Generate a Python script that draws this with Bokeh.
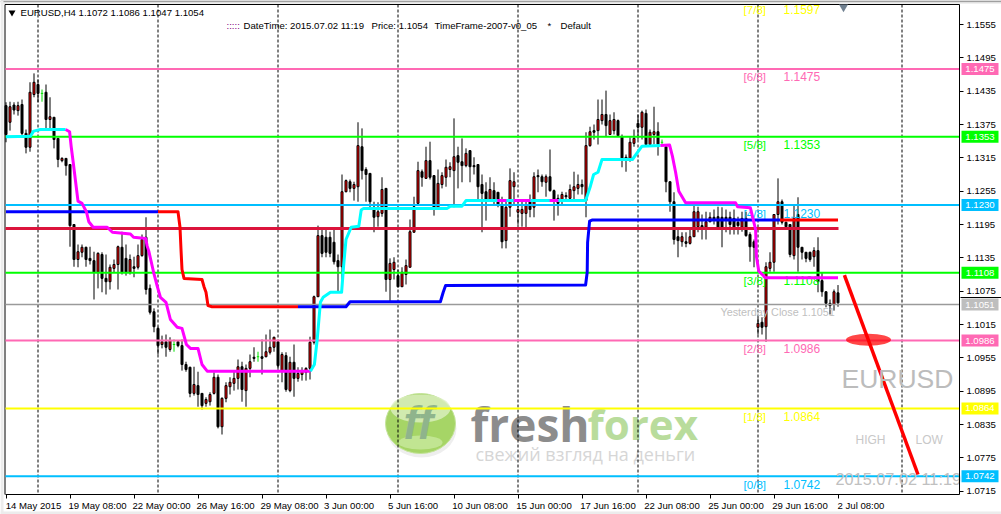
from bokeh.plotting import figure
from bokeh.models import Range1d, FixedTicker
from bokeh.core.properties import value
from bokeh.embed import file_html
from bokeh.resources import INLINE
import numpy as np

SYMBOL = "EURUSD"
# OHLC of the H4 bars, in 1/10000 of a dollar
highs = [11415,11416,11415,11416,11420,11366,11451,11467,11456,11438,
11447,11424,11388,11350,11316,11314,11303,11195,11159,11159,
11155,11155,11146,11145,11145,11141,11123,11132,11157,11182,
11159,11141,11137,11159,11177,11208,11087,11044,11011,10995,
10997,10992,10988,10984,10988,10948,10939,10939,10930,10891,
10884,10893,10929,10925,10884,10911,10920,10932,10952,10948,
10943,10961,10974,10966,10988,10997,11006,10993,10986,10965,
10965,10957,10979,10938,10938,10938,10993,11067,11193,11186,
11186,11182,11186,11141,11285,11276,11276,11272,11379,11368,
11298,11287,11236,11235,11280,11260,11134,11136,11114,11118,
11132,11204,11245,11308,11294,11335,11344,11283,11294,11289,
11312,11307,11386,11335,11350,11332,11328,11316,11303,11285,
11271,11280,11271,11253,11245,11236,11296,11289,11236,11240,
11236,11249,11289,11294,11285,11285,11330,11258,11249,11254,
11253,11267,11290,11285,11276,11361,11371,11375,11420,11420,
11436,11393,11397,11384,11357,11321,11352,11366,11393,11400,
11402,11366,11407,11379,11348,11335,11272,11253,11186,11181,
11181,11186,11229,11227,11213,11218,11217,11222,11227,11226,
11222,11218,11222,11209,11218,11218,11181,11168,11028,11028,
11127,11145,11213,11278,11240,11200,11195,11231,11244,11154,
11145,11146,11154,11172,11109,11074,11060,11078,11086]
opens = [11409,11379,11410,11400,11411,11359,11334,11429,11447,11431,
11433,11384,11388,11350,11310,11314,11303,11195,11132,11145,
11154,11134,11130,11109,11141,11098,11092,11116,11123,11154,
11134,11109,11119,11118,11139,11172,11080,11038,11008,10979,
10984,10970,10979,10984,10977,10943,10938,10891,10905,10891,
10873,10876,10891,10920,10831,10882,10903,10909,10918,10939,
10896,10936,10956,10957,10957,10957,10965,10974,10984,10932,
10959,10896,10947,10918,10925,10929,10936,10983,11065,11175,
11172,11172,11163,11130,11119,11254,11272,11260,11263,11335,
11294,11287,11226,11209,11215,11260,11096,11114,11103,11083,
11105,11118,11181,11233,11290,11278,11310,11283,11226,11267,
11280,11294,11292,11319,11308,11301,11328,11301,11303,11267,
11254,11240,11256,11253,11231,11166,11226,11263,11217,11215,
11215,11240,11226,11283,11281,11271,11281,11256,11242,11240,
11247,11242,11256,11260,11267,11238,11337,11364,11364,11382,
11393,11357,11364,11382,11353,11316,11314,11341,11377,11370,
11395,11339,11357,11362,11343,11335,11272,11236,11173,11164,
11164,11161,11173,11191,11193,11190,11200,11208,11209,11208,
11208,11208,11206,11199,11190,11206,11177,11164,11010,11019,
11011,11116,11127,11213,11236,11199,11195,11139,11213,11154,
11145,11145,11137,11148,11094,11074,11053,11051,11072]
closes = [11357,11407,11401,11409,11359,11334,11433,11451,11431,11430,
11384,11389,11348,11312,11314,11301,11193,11132,11146,11154,
11132,11130,11109,11143,11098,11092,11118,11123,11155,11109,
11109,11132,11116,11139,11168,11078,11037,11011,10977,10984,
10974,10986,10977,10977,10943,10934,10891,10907,10889,10869,
10880,10889,10920,10831,10882,10905,10911,10918,10939,10898,
10936,10948,10954,10956,10954,10966,10974,10992,10941,10961,
10898,10947,10918,10927,10930,10936,10983,11065,11175,11143,
11145,11143,11128,11119,11254,11274,11260,11267,11337,11292,
11285,11236,11208,11218,11258,11096,11125,11127,11083,11109,
11121,11182,11227,11292,11280,11310,11280,11226,11269,11283,
11298,11299,11317,11307,11301,11323,11299,11299,11263,11251,
11240,11258,11238,11231,11164,11226,11274,11272,11222,11222,
11231,11222,11281,11281,11272,11281,11256,11240,11233,11249,
11245,11258,11263,11267,11263,11337,11362,11361,11384,11393,
11373,11382,11384,11355,11314,11312,11343,11350,11370,11397,
11339,11361,11362,11339,11341,11272,11236,11168,11166,11173,
11161,11173,11218,11218,11190,11200,11208,11204,11190,11190,
11204,11195,11190,11193,11206,11175,11155,11154,11017,11010,
11119,11127,11213,11236,11199,11191,11141,11206,11154,11145,
11134,11132,11148,11092,11074,11053,11049,11074,11054]
lows = [11343,11364,11393,11391,11355,11323,11326,11424,11415,11416,
11368,11366,11332,11298,11307,11283,11155,11119,11118,11136,
11119,11123,11060,11080,11073,11069,11078,11109,11078,11105,
11103,11105,11100,11114,11137,11069,11033,11001,10961,10972,
10957,10966,10966,10974,10932,10930,10884,10887,10867,10862,
10867,10869,10889,10828,10817,10875,10889,10896,10898,10876,
10867,10920,10948,10948,10925,10956,10961,10966,10934,10911,
10894,10893,10885,10912,10914,10914,10916,10979,11065,11136,
11136,11136,11123,11073,11073,11253,11253,11238,11236,11276,
11236,11226,11181,11191,11209,11074,11056,11096,11082,11083,
11087,11118,11181,11233,11263,11278,11276,11211,11226,11260,
11263,11280,11226,11260,11271,11298,11271,11285,11236,11181,
11202,11236,11231,11226,11152,11152,11209,11231,11195,11191,
11190,11208,11208,11253,11263,11245,11254,11202,11211,11231,
11240,11240,11240,11249,11249,11208,11335,11348,11339,11375,
11353,11357,11357,11353,11298,11290,11308,11335,11348,11348,
11335,11339,11339,11319,11337,11253,11218,11159,11136,11155,
11154,11159,11173,11181,11168,11168,11199,11195,11186,11154,
11181,11177,11177,11177,11182,11173,11128,11118,10997,10997,
10984,11110,11110,11195,11195,11190,11136,11132,11110,11132,
11127,11128,11119,11073,11065,11046,11033,11040,11047]
arrow_bars = [9, 42, 63, 164]

# Murrey levels
level_names = ["[7/8]", "[6/8]", "[5/8]", "[4/8]", "[3/8]", "[2/8]", "[1/8]", "[0/8]"]
level_values = [1.1597, 1.1475, 1.1353, 1.1230, 1.1108, 1.0986, 1.0864, 1.0742]
level_colors = ["#ffff00", "#ff69b4", "#00ff00", "#00bfff", "#00ff00", "#ff69b4", "#ffff00", "#00bfff"]
yesterday_close = 1.1051
crimson_level = 1.1188

# indicator paths (bar index, value in 1/10000)
blue_a_x = [0, 38];  blue_a_y = [11218, 11218]
red_a_x = [38, 43, 43.5, 43.75, 44, 44.5, 49, 49.5, 50, 50.5, 51.5, 73]
red_a_y = [11218, 11218, 11190, 11150, 11114, 11098, 11096, 11083, 11073, 11049, 11047, 11047]
blue_b_x = [73, 85, 86, 108.6, 109.3, 109.9, 144.9, 145.3, 145.4, 145.9, 146.5, 193.5]
blue_b_y = [11047, 11047, 11056, 11056, 11073, 11085, 11086, 11109, 11163, 11201, 11203, 11203]
red_b_x = [193.5, 208];  red_b_y = [11203, 11203]

cyan_a_x = [0, 6.1, 6.9, 8.6, 14.9]
cyan_a_y = [11353, 11354, 11363, 11366, 11366]
magenta_a_x = [14.9, 15.9, 16.3, 16.8, 17.4, 18, 19, 20.1, 20.7, 21.8, 25.3, 26.6, 31.1, 31.9, 34.9, 35.3, 35.7, 36.9,
               37.8, 38.6, 40, 41.1, 42.8, 44, 45.1, 46.1, 48, 49, 50.3, 76.1]
magenta_a_y = [11366, 11362, 11335, 11307, 11272, 11237, 11233, 11218, 11200, 11190, 11190, 11181, 11178, 11172, 11170,
               11156, 11147, 11109, 11084, 11064, 11055, 11024, 11010, 11008, 10979, 10972, 10972, 10943, 10931, 10931]
cyan_b_x = [76.1, 77.1, 77.8, 78.6, 79.3, 81.1, 83.9, 84.4, 85, 86.3, 88.2, 88.8, 89.4, 110.3, 111.1, 114, 115, 144.9,
            146.1, 146.9, 148, 149, 156.6, 159, 163.6]
cyan_b_y = [10931, 10943, 10988, 11055, 11064, 11073, 11073, 11120, 11168, 11190, 11192, 11221, 11224, 11224, 11228,
            11228, 11238, 11238, 11264, 11285, 11289, 11312, 11312, 11336, 11337]
magenta_patch_x0 = [122.8, 126.9, 135.9]
magenta_patch_x1 = [125.1, 131.1, 138.1]
magenta_patch_y = 11238
magenta_b_x = [163.6, 165.9, 166.6, 167.4, 168.2, 169.9, 182.4, 182.9, 186.1, 187.4, 187.6, 188.2, 189.9, 208]
magenta_b_y = [11337, 11338, 11318, 11289, 11255, 11234, 11234, 11227, 11225, 11186, 11138, 11111, 11099, 11099]
trend_x = [209.6, 228];  trend_y = [11104, 10745]

# axes
y_ticks = [1.1555, 1.1495, 1.1435, 1.1375, 1.1315, 1.1255, 1.1195, 1.1135, 1.1075, 1.1015, 1.0955, 1.0895, 1.0835, 1.0775, 1.0715]
x_tick_bars = [0, 16, 32, 48, 64, 80, 96, 112, 128, 144, 160, 176, 192, 208]
x_tick_labels = ["14 May 2015", "19 May 08:00", "22 May 00:00", "26 May 16:00", "29 May 08:00", "3 Jun 00:00", "5 Jun 16:00",
                 "10 Jun 08:00", "15 Jun 00:00", "17 Jun 16:00", "22 Jun 08:00", "25 Jun 00:00", "29 Jun 16:00", "2 Jul 08:00"]
session_bars = [8, 38, 68, 98, 128, 158, 188, 224]


def bar_at(px):
    return (px - 5.5) / 4.0


def price_at(py):
    return (11600 - 1.8 * py) / 10000.0


def P(a):
    return [v / 10000.0 for v in a]


UI = "Liberation Sans"
p = figure(width=1001, height=514, output_backend="svg", toolbar_location=None,
           x_range=Range1d(bar_at(0), bar_at(1001)), y_range=Range1d(price_at(515), price_at(1)),
           x_axis_location="below", y_axis_location="right",
           min_border_left=0, min_border_right=0, min_border_top=0, min_border_bottom=0,
           background_fill_color="white", border_fill_color="white", outline_line_color=None)
p.grid.visible = False

# axes, fixed at the chart's edges inside the full-size frame
offs = [(23 + (3 if t[1] != " " else 0) + (1.5 if "May" in t else 0)) / 4.0 for t in x_tick_labels]
label_pos = [b + o for b, o in zip(x_tick_bars, offs)]
xa = p.xaxis[0]
xa.fixed_location = price_at(495)
xa.bounds = (bar_at(5), bar_at(959))
xa.ticker = FixedTicker(ticks=label_pos, minor_ticks=x_tick_bars)
xa.major_label_overrides = {k: v for k, v in zip(label_pos, x_tick_labels)}
xa.major_tick_line_color = None
xa.major_tick_out = 0
xa.major_tick_in = 0
xa.minor_tick_out = 4
xa.minor_tick_in = 0
xa.minor_tick_line_color = "black"
xa.axis_line_color = "black"
xa.major_label_text_font = UI
xa.major_label_text_font_size = "9.6px"
xa.major_label_text_color = "black"
xa.major_label_standoff = 1
ya = p.yaxis[0]
ya.fixed_location = bar_at(959)
ya.bounds = (price_at(495), price_at(5))
ya.ticker = FixedTicker(ticks=y_ticks)
ya.major_label_overrides = {k: f"{k:.4f}" for k in y_ticks}
ya.major_tick_out = 4
ya.major_tick_in = 0
ya.major_tick_line_color = "black"
ya.minor_tick_line_color = None
ya.axis_line_color = "black"
ya.major_label_text_font = UI
ya.major_label_text_font_size = "9.6px"
ya.major_label_text_color = "black"
ya.major_label_standoff = 3

# window edges and the chart's left and top border
p.quad(left=[bar_at(0)], right=[bar_at(1001)], top=[price_at(1)], bottom=[price_at(4)], fill_color="#e0e0e0", line_color=None)
p.quad(left=[bar_at(0)], right=[bar_at(1001)], top=[price_at(1)], bottom=[price_at(2.2)], fill_color="#8a8a8a", line_color=None)
p.quad(left=[bar_at(0)], right=[bar_at(3)], top=[price_at(1)], bottom=[price_at(515)], fill_color="#ececec", line_color=None)
p.quad(left=[bar_at(0)], right=[bar_at(1001)], top=[price_at(512)], bottom=[price_at(515)], fill_color="#ececec", line_color=None)
p.segment([bar_at(4.5)], [price_at(5)], [bar_at(959)], [price_at(5)], line_color="black", line_width=1)
p.segment([bar_at(4.5)], [price_at(5)], [bar_at(4.5)], [price_at(495)], line_color="black", line_width=1)

# watermark logo
lx, ly = bar_at(420), price_at(424)
p.ellipse([bar_at(421)], [price_at(429)], width=70 / 4, height=58 * 1.8e-4, fill_color="#eeeeee", line_color=None)
p.ellipse([lx], [ly], width=70 / 4, height=60 * 1.8e-4, fill_color="#a6d566", line_color="#c4e49a", line_width=1)
p.ellipse([lx], [price_at(409)], width=60 / 4, height=28 * 1.8e-4, fill_color="#dcefc2", fill_alpha=0.8, line_color=None)
p.ellipse([lx], [price_at(443)], width=44 / 4, height=14 * 1.8e-4, fill_color="#c8e89e", fill_alpha=0.8, line_color=None)
p.text([bar_at(418)], [price_at(423)], text=["ff"], text_font=value("Liberation Sans"), text_font_size="46px",
       text_font_style="bold italic", text_color="#8fb48c", text_align="center", text_baseline="middle")
p.text([bar_at(470)], [price_at(424)], text=["fresh"], text_font=value("Open Sans"), text_font_size="46px",
       text_font_style="bold", text_color="#8c8c8c", text_align="left", text_baseline="alphabetic")
p.text([bar_at(587)], [price_at(424)], text=["forex"], text_font=value("Open Sans"), text_font_size="42px",
       text_font_style="bold", text_color="#b9dc9c", text_align="left", text_baseline="alphabetic")
p.text([bar_at(475)], [price_at(454)], text=["свежий взгляд на деньги"], text_font=value("Open Sans"), text_font_size="18px",
       text_color="#d6d6d6", text_align="left", text_baseline="middle")

# session separators
for b in session_bars:
    p.segment([b], [price_at(5)], [b], [price_at(495)], line_color="black", line_width=1, line_dash="3 2")

# candles
h, o, c, l = map(np.array, (P(highs), P(opens), P(closes), P(lows)))
idx = np.arange(len(h))
is_arrow = np.isin(idx, arrow_bars)
bull = (c >= o) & ~is_arrow
bear = (c < o) & ~is_arrow
p.segment(idx[~is_arrow], h[~is_arrow], idx[~is_arrow], l[~is_arrow], line_color="black", line_width=1)
p.vbar(idx[bear], top=o[bear], bottom=c[bear], width=0.5, fill_color="black", line_color="black", line_width=1)
p.vbar(idx[bull], top=c[bull], bottom=o[bull], width=0.5, fill_color="#ff0000", line_color="black", line_width=1)
p.segment(idx[is_arrow], h[is_arrow], idx[is_arrow], l[is_arrow], line_color="#00e000", line_width=1)
p.segment(idx[is_arrow] - 0.3, o[is_arrow], idx[is_arrow] + 0.3, o[is_arrow], line_color="#00e000", line_width=1)

# level lines and their texts
for v, col in zip(level_values[1:], level_colors[1:]):
    p.segment([bar_at(5)], [v], [bar_at(959)], [v], line_color=col, line_width=2)
p.segment([bar_at(5)], [yesterday_close], [bar_at(959)], [yesterday_close], line_color="#9a9a9a", line_width=1.6)
p.segment([bar_at(5)], [crimson_level], [bar_at(838)], [crimson_level], line_color="#dc143c", line_width=3)
p.text([bar_at(743)] * 8, level_values, text=level_names, text_color=level_colors, text_font=value(UI),
       text_font_size="11.6px", text_baseline="middle", y_offset=8)
p.text([bar_at(783)] * 8, level_values, text=[f"{v:.4f}" for v in level_values], text_color=level_colors,
       text_font=value(UI), text_font_size="12px", text_baseline="middle", y_offset=8)

# indicators
for xs, ys, col in ((blue_a_x, blue_a_y, "#0000ff"), (red_a_x, red_a_y, "#ff0000"),
                    (blue_b_x, blue_b_y, "#0000ff"), (red_b_x, red_b_y, "#ff0000"),
                    (cyan_a_x, cyan_a_y, "#00ffff"), (magenta_a_x, magenta_a_y, "#ff00ff"),
                    (cyan_b_x, cyan_b_y, "#00ffff"), (magenta_b_x, magenta_b_y, "#ff00ff")):
    p.line(xs, P(ys), line_color=col, line_width=3, line_join="round")
my = magenta_patch_y / 10000.0
p.segment(magenta_patch_x0, [my] * 3, magenta_patch_x1, [my] * 3, line_color="#ff00ff", line_width=3)

# objects at the right
p.ellipse([bar_at(868)], [price_at(340.3)], width=45 / 4, height=12 * 1.8e-4, fill_color="#ff0000", fill_alpha=0.72, line_color=None)
p.line(trend_x, P(trend_y), line_color="#ff0000", line_width=3.5)
p.scatter([bar_at(843)], [price_at(7.5)], marker="inverted_triangle", size=9, fill_color="#708090", line_color=None)

grey = "#c0c0c0"
p.text([bar_at(720)], [price_at(312)], text=[f"Yesterday Close {yesterday_close:.4f}"], text_color=grey,
       text_font=value(UI), text_font_size="10.8px", text_baseline="middle")
p.text([bar_at(841)], [price_at(379)], text=[SYMBOL], text_color="#bcbcbc", text_font=value(UI), text_font_size="26.5px", text_baseline="middle")
p.text([bar_at(855)], [price_at(440)], text=["HIGH"], text_color="#c8c8c8", text_font=value(UI), text_font_size="12px", text_baseline="middle")
p.text([bar_at(915)], [price_at(440)], text=["LOW"], text_color="#c8c8c8", text_font=value(UI), text_font_size="12px", text_baseline="middle")
p.text([bar_at(835)], [price_at(479)], text=["2015.07.02 11:19"], text_color=grey, text_font=value(UI), text_font_size="16.3px", text_baseline="middle")

# header
p.scatter([bar_at(11.5)], [price_at(13)], marker="inverted_triangle", size=7, fill_color="black", line_color=None)
p.text([bar_at(20)], [price_at(13)], text=[f"{SYMBOL},H4  1.1072 1.1086 1.1047 1.1054"], text_color="black",
       text_font=value(UI), text_font_size="9.6px", text_baseline="middle")
for px, txt, col in ((226, ":::::", "#800080"), (243, "DateTime: 2015.07.02 11:19", "black"), (371, "Price: 1.1054", "black"),
                     (434, "TimeFrame-2007-v0_05", "black"), (547, "*", "black"), (560, "Default", "black")):
    p.text([bar_at(px)], [price_at(26)], text=[txt], text_color=col, text_font=value(UI), text_font_size="9.6px", text_baseline="middle")

# price tags on the axis
tag_vals = [1.1475, 1.1353, 1.1230, 1.1108, yesterday_close, 1.0986, 1.0864, 1.0742]
tag_cols = ["#ff69b4", "#00ff00", "#00bfff", "#00ff00", "#bebebe", "#ff69b4", "#ffff00", "#00bfff"]
half = 6 * 1.8e-4
p.segment([bar_at(960)], [price_at(298)], [bar_at(1001)], [price_at(298)], line_color="black", line_width=1)
p.quad(left=[bar_at(961)] * 8, right=[bar_at(998)] * 8, top=[v + half for v in tag_vals], bottom=[v - half for v in tag_vals],
       fill_color=tag_cols, line_color=None)
p.text([bar_at(979.5)] * 8, tag_vals, text=[f"{v:.4f}" for v in tag_vals], text_color="white", text_font=value(UI),
       text_font_size="9.6px", text_align="center", text_baseline="middle")

open("out.html", "w").write(file_html(p, INLINE))
